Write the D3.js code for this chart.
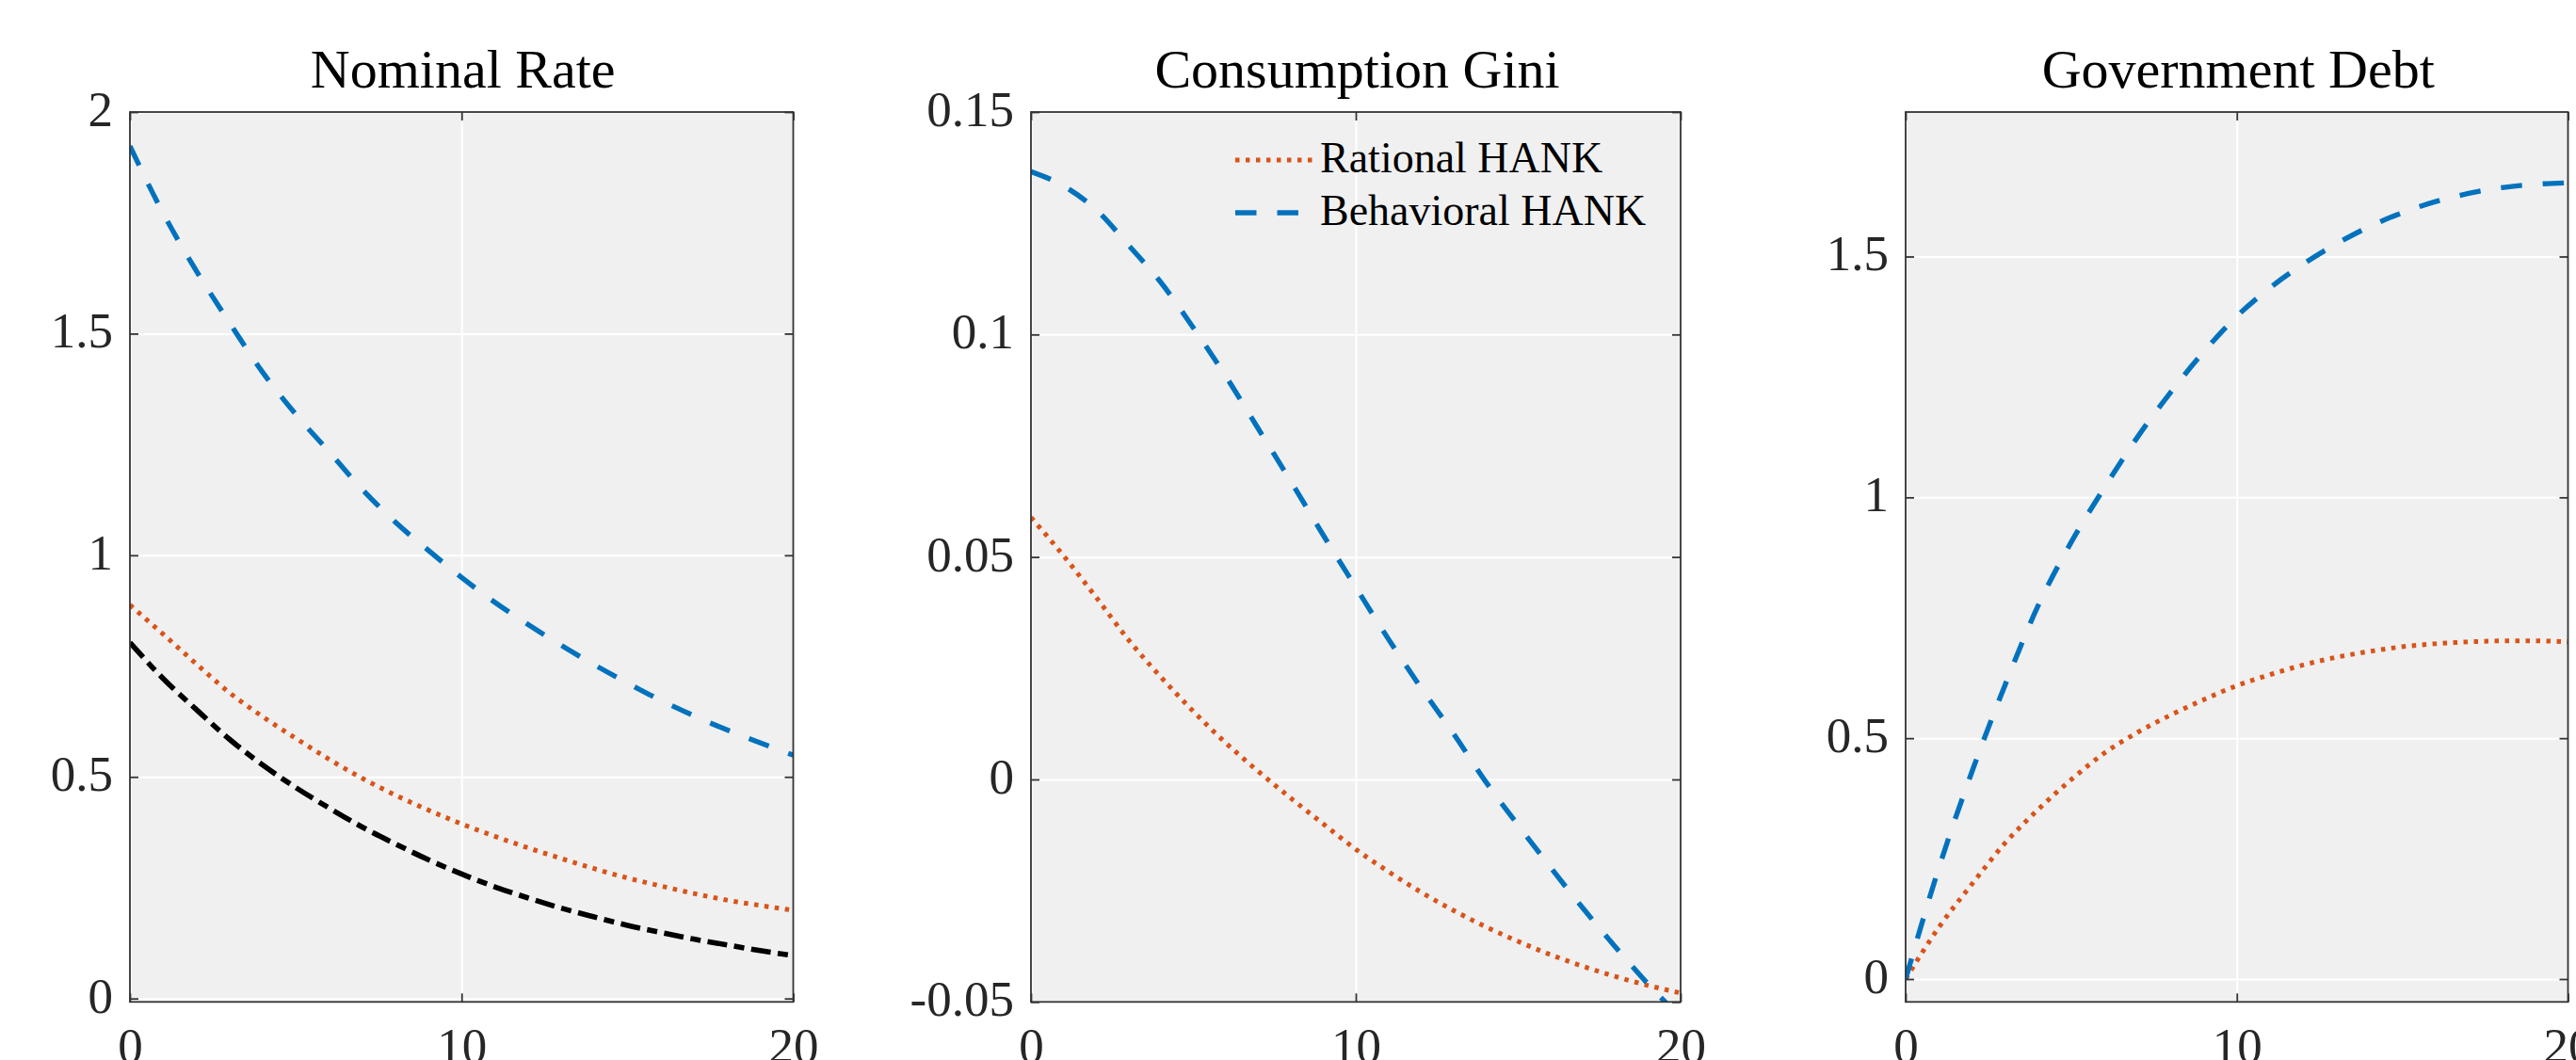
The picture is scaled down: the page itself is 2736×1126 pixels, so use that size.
<!DOCTYPE html>
<html>
<head>
<meta charset="utf-8">
<script src="https://cdn.jsdelivr.net/npm/d3@7"></script>
<style>
  html, body { margin: 0; padding: 0; background: #ffffff; }
  svg { display: block; }
  text { font-family: "Liberation Serif", "Times New Roman", serif; }
</style>
</head>
<body>
<svg id="chart" width="2736" height="1126"></svg>
<script>
// ---------------- DATA ----------------
const periods = [0,1,2,3,4,5,6,7,8,9,10,11,12,13,14,15,16,17,18,19,20];

const panelTitles = ["Nominal Rate", "Consumption Gini", "Government Debt"];
const legendLabels = ["Rational HANK", "Behavioral HANK"];

const xTickValues = [0, 10, 20];
const xTickLabels = ["0", "10", "20"];

const rateTickValues = [0, 0.5, 1, 1.5, 2];
const rateTickLabels = ["0", "0.5", "1", "1.5", "2"];
const giniTickValues = [-0.05, 0, 0.05, 0.1, 0.15];
const giniTickLabels = ["-0.05", "0", "0.05", "0.1", "0.15"];
const debtTickValues = [0, 0.5, 1, 1.5];
const debtTickLabels = ["0", "0.5", "1", "1.5"];

// Nominal Rate
const rateRational   = [0.888,0.822,0.755,0.690,0.636,0.587,0.540,0.497,0.459,0.425,0.394,0.366,0.340,0.316,0.293,0.272,0.254,0.237,0.222,0.210,0.199];
const rateBehavioral = [1.923,1.772,1.642,1.525,1.413,1.318,1.234,1.149,1.075,1.011,0.950,0.894,0.844,0.797,0.753,0.712,0.673,0.638,0.606,0.577,0.549];
const rateBenchmark  = [0.803,0.722,0.652,0.585,0.527,0.476,0.430,0.387,0.349,0.313,0.281,0.252,0.227,0.204,0.184,0.165,0.149,0.134,0.121,0.108,0.097];

// Consumption Gini
const giniRational   = [0.0589,0.0503,0.0410,0.0314,0.0230,0.0153,0.0082,0.0018,-0.0042,-0.0100,-0.0157,-0.0207,-0.0253,-0.0294,-0.0331,-0.0364,-0.0394,-0.0420,-0.0443,-0.0463,-0.0480];
const giniBehavioral = [0.1366,0.1334,0.1281,0.1201,0.1117,0.1015,0.0906,0.0788,0.0670,0.0549,0.0432,0.0316,0.0207,0.0104,-0.0005,-0.0103,-0.0198,-0.0290,-0.0377,-0.0460,-0.0535];

// Government Debt
const debtRational   = [0,0.107,0.197,0.282,0.352,0.414,0.469,0.512,0.548,0.580,0.609,0.632,0.652,0.668,0.680,0.690,0.696,0.700,0.702,0.702,0.700];
const debtBehavioral = [0,0.230,0.430,0.610,0.775,0.907,1.020,1.125,1.218,1.302,1.376,1.435,1.484,1.526,1.562,1.591,1.614,1.631,1.643,1.650,1.653];

// ---------------- STYLES / LAYOUT ----------------
const styles = {
  rational:   { color: "#D95319", dash: "4.5 6.5",        width: 5.0 },
  behavioral: { color: "#0072BD", dash: "22.5 22",        width: 5.4 },
  benchmark:  { color: "#000000", dash: "21 7.5 11 7.5",  width: 5.6 }
};

const plotTop = 119, plotBottom = 1064.3;

const panels = [
  { title: panelTitles[0], left: 138,  right: 842.5, yDomain: [-0.0077, 2],
    yTicks: rateTickValues, yLabels: rateTickLabels,
    series: [ {v: rateBenchmark, s: "benchmark"}, {v: rateRational, s: "rational"}, {v: rateBehavioral, s: "behavioral"} ] },
  { title: panelTitles[1], left: 1095, right: 1785,  yDomain: [-0.05, 0.15],
    yTicks: giniTickValues, yLabels: giniTickLabels, legend: true,
    series: [ {v: giniRational, s: "rational"}, {v: giniBehavioral, s: "behavioral"} ] },
  { title: panelTitles[2], left: 2024, right: 2727.5, yDomain: [-0.0475, 1.8],
    yTicks: debtTickValues, yLabels: debtTickLabels,
    series: [ {v: debtRational, s: "rational"}, {v: debtBehavioral, s: "behavioral"} ] }
];

const svg = d3.select("#chart");
const defs = svg.append("defs");
const axisColor = "#333333";

panels.forEach((p, i) => {
  const x = d3.scaleLinear().domain([0, 20]).range([p.left, p.right]);
  const y = d3.scaleLinear().domain(p.yDomain).range([plotBottom, plotTop]);
  const w = p.right - p.left, h = plotBottom - plotTop;
  const g = svg.append("g");

  // background
  g.append("rect").attr("x", p.left).attr("y", plotTop).attr("width", w).attr("height", h)
    .attr("fill", "#f0f0f0");

  // grid (white)
  const gx = g.append("g").attr("transform", `translate(0,${plotBottom})`)
    .call(d3.axisBottom(x).tickValues(xTickValues).tickSize(-h).tickFormat(""));
  const gy = g.append("g").attr("transform", `translate(${p.left},0)`)
    .call(d3.axisLeft(y).tickValues(p.yTicks).tickSize(-w).tickFormat(""));
  [gx, gy].forEach(a => {
    a.select(".domain").remove();
    a.selectAll(".tick line").attr("stroke", "#ffffff").attr("stroke-width", 2);
  });

  // clip
  defs.append("clipPath").attr("id", "clip" + i)
    .append("rect").attr("x", p.left).attr("y", plotTop).attr("width", w).attr("height", h);

  // series
  const line = d3.line().x((d, k) => x(periods[k])).y(d => y(d)).curve(d3.curveMonotoneX);
  const lg = g.append("g").attr("clip-path", `url(#clip${i})`);
  p.series.forEach(sr => {
    const st = styles[sr.s];
    lg.append("path").datum(sr.v).attr("d", line)
      .attr("fill", "none").attr("stroke", st.color).attr("stroke-width", st.width)
      .attr("stroke-dasharray", st.dash).attr("stroke-linecap", "butt").attr("stroke-linejoin", "round");
  });

  // axes (ticks inside, on all four sides)
  const fontSize = 53;
  const left = g.append("g").attr("transform", `translate(${p.left},0)`)
    .call(d3.axisLeft(y).tickValues(p.yTicks).tickFormat((d, k) => p.yLabels[k]).tickSize(-9).tickPadding(18));
  left.selectAll("text").attr("dy", "14.5px").attr("font-size", fontSize).attr("fill", "#262626")
    .attr("font-family", "Liberation Serif");
  const right = g.append("g").attr("transform", `translate(${p.right},0)`)
    .call(d3.axisRight(y).tickValues(p.yTicks).tickFormat("").tickSize(-9));
  const bottom = g.append("g").attr("transform", `translate(0,${plotBottom})`)
    .call(d3.axisBottom(x).tickValues(xTickValues).tickFormat((d, k) => xTickLabels[k]).tickSize(-9).tickPadding(0));
  bottom.selectAll("text").attr("dy", null).attr("y", 65.2).attr("font-size", fontSize).attr("fill", "#262626")
    .attr("font-family", "Liberation Serif");
  const top = g.append("g").attr("transform", `translate(0,${plotTop})`)
    .call(d3.axisTop(x).tickValues(xTickValues).tickFormat("").tickSize(-9));
  [left, right, bottom, top].forEach(a => {
    a.select(".domain").remove();
    a.selectAll(".tick line").attr("stroke", axisColor).attr("stroke-width", 1.8);
  });

  // box
  g.append("rect").attr("x", p.left).attr("y", plotTop).attr("width", w).attr("height", h)
    .attr("fill", "none").attr("stroke", axisColor).attr("stroke-width", 1.8);

  // title
  g.append("text").attr("x", (p.left + p.right) / 2 + 1.5).attr("y", 93)
    .attr("text-anchor", "middle").attr("font-size", 58).attr("fill", "#000")
    .text(p.title);

  // legend
  if (p.legend) {
    const items = [ {label: legendLabels[0], s: "rational", ly: 170, ty: 183},
                    {label: legendLabels[1], s: "behavioral", ly: 226, ty: 238.5} ];
    items.forEach(it => {
      const st = styles[it.s];
      g.append("line").attr("x1", 1312).attr("x2", 1395).attr("y1", it.ly).attr("y2", it.ly)
        .attr("stroke", st.color).attr("stroke-width", st.width).attr("stroke-dasharray", st.dash);
      g.append("text").attr("x", 1402).attr("y", it.ty).attr("font-size", 46).attr("fill", "#000")
        .text(it.label);
    });
  }
});
</script>
</body>
</html>
